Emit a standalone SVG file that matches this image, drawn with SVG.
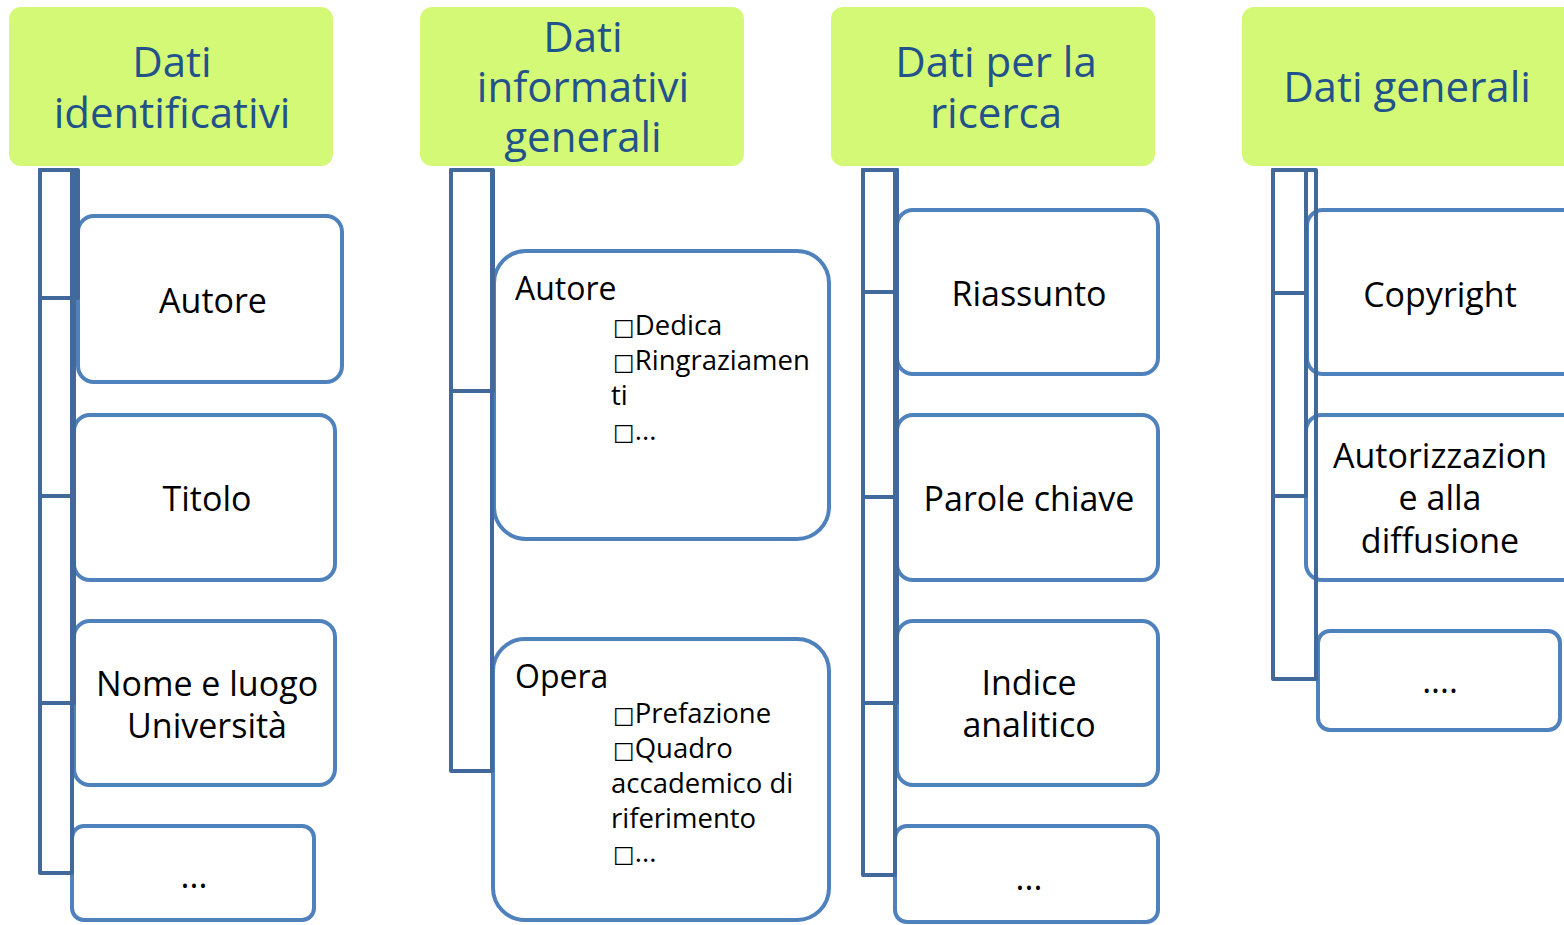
<svg xmlns="http://www.w3.org/2000/svg" width="1564" height="925" viewBox="0 0 1564 925">
<style>
.hdr{fill:#d4f977;}
.htxt{font-family:"Open Sans","Noto Sans","DejaVu Sans",sans-serif;font-size:42px;fill:#22528a;text-anchor:middle;}
.box{fill:#ffffff;stroke:#4f81bd;stroke-width:4;}
.txt{font-family:"Open Sans","Noto Sans","DejaVu Sans",sans-serif;font-size:34px;fill:#000;text-anchor:middle;}
.ltxt{font-family:"Open Sans","Noto Sans","DejaVu Sans",sans-serif;fill:#000;font-size:27.5px;}
.big{font-size:32px;}
.sq{font-family:"DejaVu Sans",sans-serif;font-size:23px;}
.con{fill:none;stroke:#41699b;stroke-width:4;stroke-linejoin:round;}
</style>
<rect width="1564" height="925" fill="#ffffff"/>

<g id="h1"><rect class="hdr" x="9" y="7" width="324" height="159" rx="12"/>
<text class="htxt"><tspan x="172" y="77">Dati</tspan><tspan x="172" y="128">identificativi</tspan></text></g>
<g id="h2"><rect class="hdr" x="420" y="7" width="324" height="159" rx="12"/>
<text class="htxt"><tspan x="583" y="52">Dati</tspan><tspan x="583" y="102">informativi</tspan><tspan x="583" y="152">generali</tspan></text></g>
<g id="h3"><rect class="hdr" x="831" y="7" width="324" height="159" rx="12"/>
<text class="htxt"><tspan x="996" y="77">Dati per la</tspan><tspan x="996" y="128">ricerca</tspan></text></g>
<g id="h4"><rect class="hdr" x="1242" y="7" width="340" height="159" rx="12"/>
<text class="htxt" x="1407" y="102">Dati generali</text></g>

<g id="c1a"><rect class="box" x="78" y="216" width="264" height="166" rx="16"/><text class="txt" x="213" y="313">Autore</text></g>
<g id="c1b"><rect class="box" x="74" y="415" width="261" height="165" rx="16"/><text class="txt" x="207" y="511">Titolo</text></g>
<g id="c1c"><rect class="box" x="74" y="621" width="261" height="164" rx="16"/><text class="txt"><tspan x="207" y="696">Nome e luogo</tspan><tspan x="207" y="738">Università</tspan></text></g>
<g id="c1d"><rect class="box" x="72" y="826" width="242" height="94" rx="12"/><text class="txt" x="194" y="888">...</text></g>

<g id="c2a"><rect class="box" x="494" y="251" width="335" height="288" rx="32"/>
<text class="ltxt"><tspan class="big" x="515" y="300">Autore</tspan><tspan x="613" y="335"><tspan class="sq">□</tspan>Dedica</tspan><tspan x="613" y="370"><tspan class="sq">□</tspan>Ringraziamen</tspan><tspan x="611" y="405">ti</tspan><tspan x="613" y="440"><tspan class="sq">□</tspan>...</tspan></text></g>
<g id="c2b"><rect class="box" x="493" y="639" width="336" height="281" rx="32"/>
<text class="ltxt"><tspan class="big" x="515" y="688">Opera</tspan><tspan x="613" y="723"><tspan class="sq">□</tspan>Prefazione</tspan><tspan x="613" y="758"><tspan class="sq">□</tspan>Quadro</tspan><tspan x="611" y="793">accademico di</tspan><tspan x="611" y="828">riferimento</tspan><tspan x="613" y="862"><tspan class="sq">□</tspan>...</tspan></text></g>

<g id="c3a"><rect class="box" x="897" y="210" width="261" height="164" rx="16"/><text class="txt" x="1029" y="306">Riassunto</text></g>
<g id="c3b"><rect class="box" x="897" y="415" width="261" height="165" rx="16"/><text class="txt" x="1029" y="511">Parole chiave</text></g>
<g id="c3c"><rect class="box" x="897" y="621" width="261" height="164" rx="16"/><text class="txt"><tspan x="1029" y="695">Indice</tspan><tspan x="1029" y="737">analitico</tspan></text></g>
<g id="c3d"><rect class="box" x="895" y="826" width="263" height="96" rx="12"/><text class="txt" x="1029" y="890">...</text></g>

<g id="c4a"><rect class="box" x="1307" y="210" width="275" height="164" rx="16"/><text class="txt" x="1440" y="307">Copyright</text></g>
<g id="c4b"><rect class="box" x="1306" y="415" width="276" height="165" rx="16"/><text class="txt"><tspan x="1440" y="468">Autorizzazion</tspan><tspan x="1440" y="510">e alla</tspan><tspan x="1440" y="553">diffusione</tspan></text></g>
<g id="c4d"><rect class="box" x="1318" y="631" width="242" height="99" rx="12"/><text class="txt" x="1440" y="693">....</text></g>

<g id="connectors">
<rect class="con" x="40" y="170" width="38" height="128"/>
<rect class="con" x="40" y="170" width="34" height="326"/>
<rect class="con" x="40" y="170" width="34" height="533"/>
<rect class="con" x="40" y="170" width="32" height="703"/>
<rect class="con" x="451" y="170" width="42" height="221"/>
<rect class="con" x="451" y="170" width="41" height="601"/>
<rect class="con" x="863" y="170" width="34" height="122"/>
<rect class="con" x="863" y="170" width="34" height="327"/>
<rect class="con" x="863" y="170" width="34" height="533"/>
<rect class="con" x="863" y="170" width="32" height="705"/>
<rect class="con" x="1273" y="170" width="33" height="123"/>
<rect class="con" x="1273" y="170" width="33" height="326"/>
<rect class="con" x="1273" y="170" width="43" height="509"/>
</g>
</svg>
